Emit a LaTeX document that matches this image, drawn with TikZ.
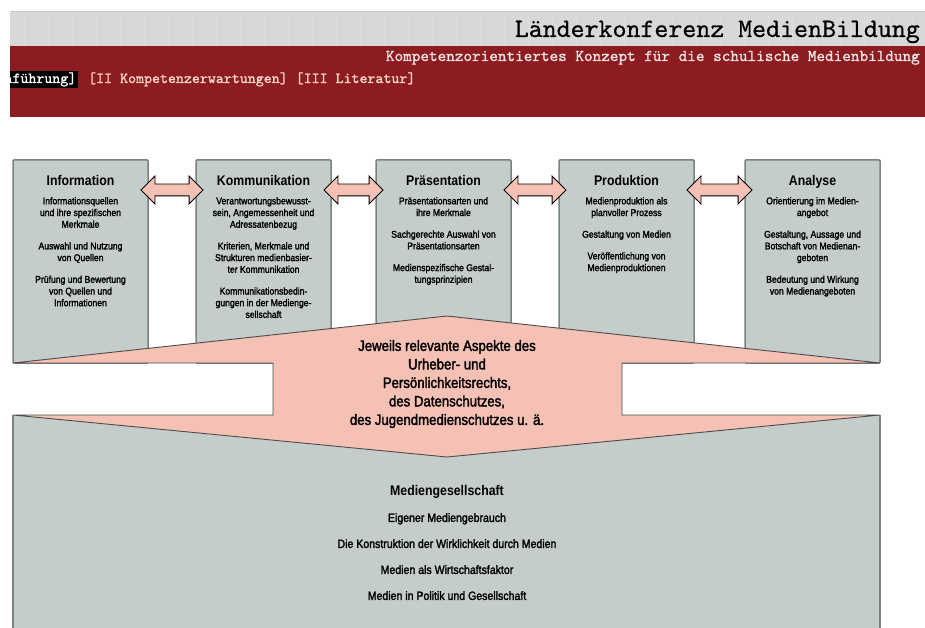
\documentclass[tikz,border=0pt]{standalone}
\usepackage{fontspec}
\setmainfont{Liberation Sans}[FakeStretch=0.88]
\newfontfamily\boxfont{Liberation Sans}[FakeStretch=0.88, FakeBold=2]
\newfontfamily\hdrfont{lmmono10-regular}[Extension=.otf, FakeBold=1.2]
\newfontfamily\hdrlightfont{lmmono10-regular}[Extension=.otf, FakeBold=0.6]
\usetikzlibrary{shapes.arrows, positioning, calc}

\definecolor{hdrred}{RGB}{141,28,32}
\definecolor{hdrgrey}{RGB}{216,216,216}
\definecolor{hdrgrid}{RGB}{222,222,222}
\definecolor{linkpink}{RGB}{246,214,200}
\definecolor{boxfill}{RGB}{196,205,201}
\definecolor{boxline}{RGB}{122,130,128}
\definecolor{arrowpink}{RGB}{245,193,180}

\tikzset{
    stage/.style={
        rectangle,
        draw=boxline,
        line width=1.5pt,
        rounded corners=1pt,
        fill=boxfill,
        minimum width=135pt,
        minimum height=203pt,
        inner sep=0pt,
        outer sep=0pt,
        anchor=north west
    },
    stagetitle/.style={
        font=\fontsize{14}{16}\selectfont\bfseries,
        inner sep=0pt
    },
    stagetext/.style={
        font=\boxfont\fontsize{9.8}{11.7}\selectfont,
        align=center,
        inner sep=0pt
    },
    dblarrow/.style={
        double arrow,
        draw=black,
        line width=0.9pt,
        fill=arrowpink,
        inner xsep=0pt,
        inner ysep=5.5pt,
        double arrow head extend=8pt
    },
    aspectarrow/.style={
        draw=black!70,
        line width=0.9pt,
        fill=arrowpink
    },
    aspecttext/.style={
        font=\boxfont\fontsize{15}{18.5}\selectfont,
        align=center,
        inner sep=0pt
    },
    hdrtitle/.style={
        font=\hdrlightfont\fontsize{26.6}{28}\selectfont,
        inner sep=0pt
    },
    hdrsub/.style={
        font=\hdrfont\fontsize{16.4}{18}\selectfont,
        text=white!88!hdrred,
        inner sep=0pt
    },
    hdrlink/.style={
        font=\hdrfont\fontsize{15.2}{17}\selectfont,
        text=linkpink,
        inner sep=0pt
    }
}

\begin{document}
\begin{tikzpicture}[x=1pt, y=-1pt]
\useasboundingbox (0,0) rectangle (925,628);

% Header
\begin{scope}
\clip (10,0) rectangle (925,628);
\fill[hdrgrey] (10,11) rectangle (925,46);
\draw[hdrgrid, line width=0.6pt, xstep=24, ystep=12] (10,11) grid (925,46);
\draw[black!22, line width=0.8pt] (10,11) -- (925,11);
\fill[hdrred] (10,46) rectangle (925,117);
\node[hdrtitle, anchor=base east] (hdr_title) at (920,37) {Länderkonferenz MedienBildung};
\node[hdrsub, anchor=base east] (hdr_sub) at (920,61) {Kompetenzorientiertes Konzept für die schulische Medienbildung};
\node[hdrlink, anchor=base east, text=white, fill=black, inner sep=1.5pt] (nav_intro) at (78,83) {aführung]};
\node[hdrlink, anchor=base west] (nav_rest) at (88,83) {[II Kompetenzerwartungen] [III Literatur]};
\end{scope}

% Competence areas
\node[stage] (info) at (13,160) {};
\node[stage] (komm) at (196,160) {};
\node[stage] (praes) at (376,160) {};
\node[stage] (prod) at (559,160) {};
\node[stage] (analyse) at (745,160) {};

\node[stagetitle, below=15pt of info.north] (info_title) {Information};
\node[stagetitle, below=15pt of komm.north] (komm_title) {Kommunikation};
\node[stagetitle, below=15pt of praes.north] (praes_title) {Präsentation};
\node[stagetitle, below=15pt of prod.north] (prod_title) {Produktion};
\node[stagetitle, below=15pt of analyse.north] (analyse_title) {Analyse};

\node[stagetext, below=37pt of info.north] (info_text) {Informationsquellen\\und ihre spezifischen\\Merkmale\\[10pt]Auswahl und Nutzung\\von Quellen\\[10pt]Prüfung und Bewertung\\von Quellen und\\Informationen};
\node[stagetext, below=37pt of komm.north] (komm_text) {Verantwortungsbewusst-\\sein, Angemessenheit und\\Adressatenbezug\\[10pt]Kriterien, Merkmale und\\Strukturen medienbasier-\\ter Kommunikation\\[10pt]Kommunikationsbedin-\\gungen in der Medienge-\\sellschaft};
\node[stagetext, below=37pt of praes.north] (praes_text) {Präsentationsarten und\\ihre Merkmale\\[10pt]Sachgerechte Auswahl von\\Präsentationsarten\\[10pt]Medienspezifische Gestal-\\tungsprinzipien};
\node[stagetext, below=37pt of prod.north] (prod_text) {Medienproduktion als\\planvoller Prozess\\[10pt]Gestaltung von Medien\\[10pt]Veröffentlichung von\\Medienproduktionen};
\node[stagetext, below=37pt of analyse.north] (analyse_text) {Orientierung im Medien-\\angebot\\[10pt]Gestaltung, Aussage und\\Botschaft von Medienan-\\geboten\\[10pt]Bedeutung und Wirkung\\von Medienangeboten};

% Links between areas
\node[dblarrow, minimum height=62pt] (arr_a) at ($(info.north east)!0.5!(komm.north west)+(0,30)$) {};
\node[dblarrow, minimum height=59pt] (arr_b) at ($(komm.north east)!0.5!(praes.north west)+(0,30)$) {};
\node[dblarrow, minimum height=62pt] (arr_c) at ($(praes.north east)!0.5!(prod.north west)+(0,30)$) {};
\node[dblarrow, minimum height=65pt] (arr_d) at ($(prod.north east)!0.5!(analyse.north west)+(0,30)$) {};

% Media society
\node[rectangle, fill=boxfill, anchor=north west, inner sep=0pt, outer sep=0pt,
      minimum width=867pt, minimum height=213pt] (society) at (13,415) {};
\draw[boxline, line width=1.5pt] (society.north west) -- (society.south west)
    (society.north east) -- (society.south east);

% Legal aspects arrow
\coordinate (up_tip) at (447,316);
\coordinate (down_tip) at (447,457);
\draw[aspectarrow] (info.south west) -- (up_tip) -- (analyse.south east) -- (622,363)
    -- (622,415) -- (society.north east) -- (down_tip) -- (society.north west)
    -- (273,415) -- (273,363) -- cycle;
\node[aspecttext] (aspects) at (447,384) {Jeweils relevante Aspekte des\\Urheber- und\\Persönlichkeitsrechts,\\des Datenschutzes,\\des Jugendmedienschutzes u. ä.};

\node[stagetitle] (society_title) at (447,492) {Mediengesellschaft};
\node[font=\boxfont\fontsize{12}{26}\selectfont, align=center, inner sep=0pt, anchor=north] (society_text) at (447,513)
    {Eigener Mediengebrauch\\Die Konstruktion der Wirklichkeit durch Medien\\Medien als Wirtschaftsfaktor\\Medien in Politik und Gesellschaft};

\end{tikzpicture}
\end{document}
